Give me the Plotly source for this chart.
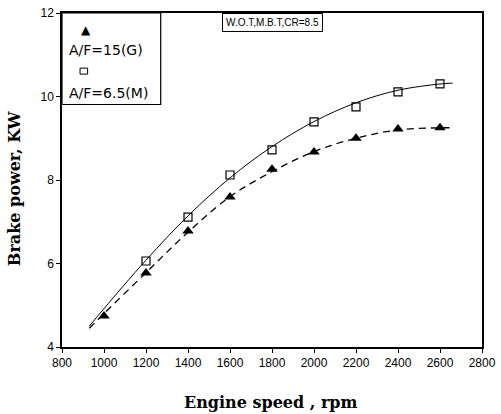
import plotly.graph_objects as go

# Measured data points
speed = [1000, 1200, 1400, 1600, 1800, 2000, 2200, 2400, 2600]
power_G = [4.74, 5.77, 6.78, 7.59, 8.26, 8.67, 9.0, 9.22, 9.25]
speed_M = [1200, 1400, 1600, 1800, 2000, 2200, 2400, 2600]
power_M = [6.06, 7.11, 8.12, 8.72, 9.39, 9.75, 10.11, 10.30]

# Fitted curves
fit_x = [930, 1000, 1200, 1400, 1600, 1800, 2000, 2200, 2400, 2600, 2660]
fit_M = [4.5, 4.92, 6.08, 7.14, 8.05, 8.8, 9.4, 9.85, 10.15, 10.3, 10.32]
fit_G = [4.45, 4.8, 5.78, 6.75, 7.6, 8.2, 8.68, 9.0, 9.2, 9.25, 9.25]

x_ticks = [800, 1000, 1200, 1400, 1600, 1800, 2000, 2200, 2400, 2600, 2800]
y_ticks = [4, 6, 8, 10, 12]

fig = go.Figure()
fig.add_trace(go.Scatter(x=fit_x, y=fit_M, mode="lines", line=dict(color="black", width=1, shape="spline"),
                         showlegend=False, hoverinfo="skip"))
fig.add_trace(go.Scatter(x=fit_x, y=fit_G, mode="lines",
                         line=dict(color="black", width=1.3, dash="7px,5px", shape="spline"),
                         showlegend=False, hoverinfo="skip"))
fig.add_trace(go.Scatter(x=speed_M, y=power_M, mode="markers",
                         marker=dict(symbol="square-open", size=8, color="black", line=dict(width=1.2)),
                         showlegend=False))
fig.add_trace(go.Scatter(x=speed, y=power_G, mode="markers",
                         marker=dict(symbol="triangle-up", size=10, color="black"),
                         showlegend=False))

tickfont = dict(family="Liberation Sans, Arial", size=12, color="black")
fig.update_xaxes(range=[800, 2800], tickvals=x_ticks, ticktext=[str(v) for v in x_ticks],
                 ticks="outside", ticklen=4, tickwidth=1, tickcolor="black",
                 showline=True, linecolor="black", linewidth=1.5, mirror=True,
                 showgrid=False, zeroline=False, tickfont=tickfont, automargin=False)
fig.update_yaxes(range=[4, 12], tickvals=y_ticks, ticktext=[str(v) for v in y_ticks],
                 ticks="outside", ticklen=4, tickwidth=1, tickcolor="black",
                 showline=True, linecolor="black", linewidth=1.5, mirror=True,
                 showgrid=False, zeroline=False, tickfont=tickfont, automargin=False)

title_font = dict(family="DejaVu Serif", size=16, color="black")
fig.add_annotation(xref="paper", yref="paper", x=0.498, y=-0.165, yanchor="middle",
                   text="<b>Engine speed , rpm</b>", showarrow=False, font=title_font)
fig.add_annotation(xref="paper", yref="paper", x=-0.114, y=0.476, xanchor="center", yanchor="middle",
                   text="<b>Brake power, KW</b>", textangle=-90, showarrow=False, font=title_font)

# Legend box (top-left) and condition label
fig.add_shape(type="rect", xref="paper", yref="paper", x0=0, x1=0.235, y0=0.726, y1=1,
              line=dict(color="black", width=1.2), fillcolor="white", layer="above")
fig.add_shape(type="rect", xref="paper", yref="paper", x0=0.043, x1=0.061, y0=0.817, y1=0.835,
              line=dict(color="black", width=1), fillcolor="white", layer="above")
lab_font = dict(family="DejaVu Sans", size=14, color="black")
fig.add_annotation(xref="paper", yref="paper", x=0.04, y=0.949, yanchor="middle", text="▲", showarrow=False,
                   font=dict(family="DejaVu Sans", size=12, color="black"))
fig.add_annotation(xref="paper", yref="paper", x=0.012, y=0.889, xanchor="left", yanchor="middle",
                   text="A/F=15(G)", showarrow=False, font=lab_font)
fig.add_annotation(xref="paper", yref="paper", x=0.012, y=0.760, xanchor="left", yanchor="middle",
                   text="A/F=6.5(M)", showarrow=False, font=lab_font)

fig.add_annotation(xref="paper", yref="paper", x=0.5, y=0.971, yanchor="middle", text="W.O.T,M.B.T,CR=8.5",
                   showarrow=False, font=dict(family="Liberation Sans, Arial", size=10, color="black"),
                   bordercolor="black", borderwidth=1, borderpad=3, bgcolor="white")

fig.update_layout(width=501, height=414, margin=dict(l=62, r=19, t=13, b=67, autoexpand=False),
                  plot_bgcolor="white", paper_bgcolor="white", showlegend=False)

fig.write_html("out.html", config={"displayModeBar": False},
               post_script="document.body.style.margin='0';")
